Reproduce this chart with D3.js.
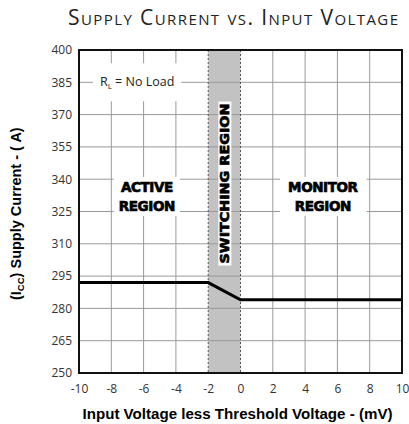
<!DOCTYPE html>
<html>
<head>
<meta charset="utf-8">
<script src="https://cdn.jsdelivr.net/npm/d3@7"></script>
<style>
  body { margin: 0; background: #fff; }
  svg { display: block; }
</style>
</head>
<body>
<div id="chart"></div>
<script>
// values
const xTicks = [-10, -8, -6, -4, -2, 0, 2, 4, 6, 8, 10];
const yTicks = [250, 265, 280, 295, 310, 325, 340, 355, 370, 385, 400];
const curveX = [-10, -2, 0, 10];
const curveY = [292, 292, 284, 284];
const switchRange = [-2, 0];

const W = 409, H = 424;
const margin = {top: 50, right: 7, bottom: 51, left: 79};
const width = W - margin.left - margin.right,
      height = H - margin.top - margin.bottom;

const xScale = d3.scaleLinear().domain([-10, 10]).range([0, width]);
const yScale = d3.scaleLinear().domain([250, 400]).range([height, 0]);

const svgRoot = d3.select("#chart").append("svg")
  .attr("width", W).attr("height", H);

// title
svgRoot.append("text")
  .attr("x", 233).attr("y", 25)
  .attr("text-anchor", "middle")
  .style("font-family", "'Open Sans', sans-serif")
  .style("font-size", "21px")
  .style("font-variant", "small-caps")
  .style("fill", "#222")
  .attr("textLength", 330)
  .attr("lengthAdjust", "spacing")
  .text("Supply Current vs. Input Voltage");

const svg = svgRoot.append("g")
  .attr("transform", "translate(" + margin.left + "," + margin.top + ")");

// switching region band
svg.append("rect")
  .attr("x", xScale(switchRange[0]))
  .attr("y", 0)
  .attr("width", xScale(switchRange[1]) - xScale(switchRange[0]))
  .attr("height", height)
  .style("fill", "#c2c2c2");

// gridlines
svg.append("g").attr("class", "grid")
  .selectAll("line").data(xTicks.filter(d => switchRange.indexOf(d) < 0 && d > -10 && d < 10))
  .join("line")
  .attr("x1", d => xScale(d)).attr("x2", d => xScale(d))
  .attr("y1", 0).attr("y2", height)
  .style("stroke", "#9a9a9a").style("stroke-width", 1);

svg.append("g").attr("class", "grid")
  .selectAll("line").data(yTicks.filter(d => d > 250 && d < 400))
  .join("line")
  .attr("x1", 0).attr("x2", width)
  .attr("y1", d => yScale(d)).attr("y2", d => yScale(d))
  .style("stroke", "#9a9a9a").style("stroke-width", 1);

// dashed edges of the switching band
svg.append("g").selectAll("line").data(switchRange)
  .join("line")
  .attr("x1", d => xScale(d)).attr("x2", d => xScale(d))
  .attr("y1", 0).attr("y2", height)
  .style("stroke", "#555").style("stroke-width", 1)
  .style("stroke-dasharray", "2,2");

// region labels with white boxes behind
const regionFont = "'DejaVu Sans', sans-serif";

function boxedLabel(lines, cx, cy, pad) {
  const g = svg.append("g");
  const bg = g.append("rect").style("fill", "#fff");
  const t = g.append("text")
    .attr("text-anchor", "middle")
    .style("font-family", regionFont)
    .style("font-weight", "bold")
    .style("font-size", "13.5px")
    .style("letter-spacing", "-0.4px")
    .style("fill", "#000")
    .style("stroke", "#000")
    .style("stroke-width", 0.7);
  lines.forEach((l, i) => {
    t.append("tspan").attr("x", cx).attr("y", cy + (i - (lines.length - 1) / 2) * 19 + 5).text(l);
  });
  const bb = t.node().getBBox();
  bg.attr("x", bb.x - pad[0]).attr("y", bb.y - pad[1])
    .attr("width", bb.width + 2 * pad[0]).attr("height", bb.height + 2 * pad[1]);
}

boxedLabel(["ACTIVE", "REGION"], xScale(-5.8), yScale(332), [5, 2]);
boxedLabel(["MONITOR", "REGION"], xScale(5.1), yScale(332), [8, 2]);

// vertical switching label
const swg = svg.append("g")
  .attr("transform", "translate(" + xScale(-1) + "," + yScale(338) + ") rotate(-90)");
const swbg = swg.append("rect").style("fill", "#fff");
const swt = swg.append("text")
  .attr("text-anchor", "middle")
  .attr("x", 0).attr("y", 5)
  .style("font-family", regionFont)
  .style("font-weight", "bold")
  .style("font-size", "13px")
  .style("stroke", "#000")
  .style("stroke-width", 0.7)
  .attr("textLength", 160)
  .attr("lengthAdjust", "spacingAndGlyphs")
  .text("SWITCHING REGION");
const swb = swt.node().getBBox();
swbg.attr("x", swb.x - 2).attr("y", swb.y + 1).attr("width", swb.width + 4).attr("height", swb.height - 2);

// R_L = No Load label
const rg = svg.append("g");
const rbg = rg.append("rect").style("fill", "#fff");
const rt = rg.append("text")
  .attr("x", xScale(-6.4)).attr("y", yScale(385) + 4)
  .attr("text-anchor", "middle")
  .style("font-family", "'Open Sans', sans-serif")
  .style("font-size", "12.5px")
  .style("fill", "#222");
rt.append("tspan").text("R");
rt.append("tspan").attr("dy", 3).style("font-size", "8px").text("L");
rt.append("tspan").attr("dy", -3).text(" = No Load");
const rb = rt.node().getBBox();
rbg.attr("x", rb.x - 7).attr("y", rb.y - 10).attr("width", rb.width + 14).attr("height", rb.height + 20);

// data line
const line = d3.line()
  .x((d, i) => xScale(curveX[i]))
  .y(d => yScale(d));

svg.append("path")
  .datum(curveY)
  .attr("d", line)
  .style("fill", "none")
  .style("stroke", "#000")
  .style("stroke-width", 3);

// frame
svg.append("rect")
  .attr("width", width).attr("height", height)
  .style("fill", "none").style("stroke", "#111").style("stroke-width", 2);

// axes (plain hyphen for negatives, as in the reference)
const fmt = d => String(d);
const xAxis = d3.axisBottom(xScale).tickValues(xTicks).tickFormat(fmt).tickSize(0).tickPadding(11);
const yAxis = d3.axisLeft(yScale).tickValues(yTicks).tickFormat(fmt).tickSize(0).tickPadding(7);

const gx = svg.append("g").attr("transform", "translate(0," + height + ")").call(xAxis);
const gy = svg.append("g").call(yAxis);
[gx, gy].forEach(g => {
  g.select(".domain").remove();
  g.selectAll("text")
    .style("font-family", "'Open Sans', sans-serif")
    .style("font-size", "12px")
    .style("fill", "#333");
});

// axis titles
svg.append("text")
  .attr("x", width / 2 - 3)
  .attr("y", height + 46)
  .attr("text-anchor", "middle")
  .style("font-family", "'Liberation Sans', Arial, sans-serif")
  .style("font-weight", "bold")
  .style("font-size", "14px")
  .attr("textLength", 310)
  .attr("lengthAdjust", "spacingAndGlyphs")
  .text("Input Voltage less Threshold Voltage - (mV)");

const yt = svg.append("text")
  .attr("transform", "translate(" + (-58) + "," + (yScale(324)) + ") rotate(-90)")
  .attr("text-anchor", "middle")
  .style("font-family", "'Liberation Sans', Arial, sans-serif")
  .style("font-weight", "bold")
  .style("font-size", "14.5px");
yt.append("tspan").text("(I");
yt.append("tspan").attr("dy", 3).style("font-size", "9.5px").text("CC");
yt.append("tspan").attr("dy", -3).text(") Supply Current - (  A)");
</script>
</body>
</html>
